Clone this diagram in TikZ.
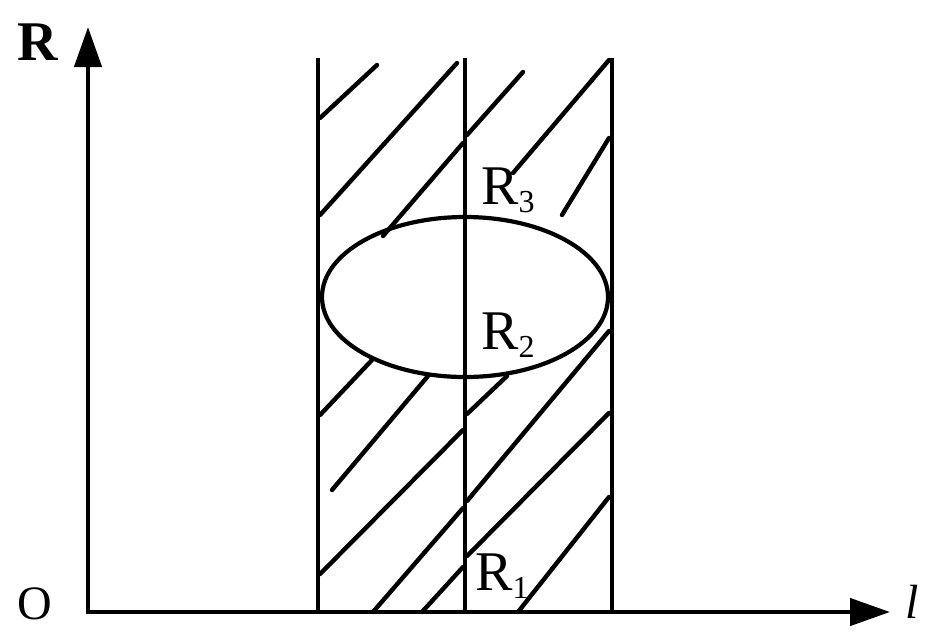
\documentclass[tikz,border=0pt]{standalone}
\usepackage{fontspec}
\setmainfont{Liberation Serif}
\usetikzlibrary{arrows.meta}
\newcommand{\sublbl}[2]{#1\raisebox{-8pt}{\fontsize{32}{32}\selectfont #2}}
\begin{document}
\begin{tikzpicture}[x=1pt,y=-1pt,
  axis/.style={line width=4.5pt,line join=miter,
    {Triangle[length=40pt,width=27pt]}-{Triangle[length=40pt,width=27pt]}},
  bound/.style={line width=4.2pt},
  hatch/.style={line width=4.4pt,line cap=round},
  lbl/.style={font=\fontsize{56}{56}\selectfont,inner sep=0pt}]
\useasboundingbox (0,0) rectangle (926,633);
% axes
\coordinate (O) at (88,612);
\coordinate (Rtop) at (88,27);
\coordinate (Lend) at (890,612);
\draw[axis] (Rtop) -- (O) -- (Lend);
\node[lbl,font=\fontsize{56}{56}\selectfont\bfseries] (labR) at (38,42) {R};
\node[lbl,font=\fontsize{48}{48}\selectfont] (labO) at (35,604) {O};
\node[lbl,font=\fontsize{48}{48}\selectfont\itshape] (labl) at (912,602) {l};
% vertical boundaries
\coordinate (v1t) at (318,58); \coordinate (v1b) at (318,612);
\coordinate (v2t) at (465,58); \coordinate (v2b) at (465,612);
\coordinate (v3t) at (612,58); \coordinate (v3b) at (612,612);
\draw[bound] (v1t) -- (v1b);
\draw[bound] (v2t) -- (v2b);
\draw[bound] (v3t) -- (v3b);
% ellipse
\draw[bound] (465,297) ellipse [x radius=143, y radius=80];
% hatching above the ellipse
\draw[hatch] (320,118) -- (377,65);
\draw[hatch] (320,215) -- (457,63);
\draw[hatch] (383,236) -- (463,143);
\draw[hatch] (467,135) -- (523,72);
\draw[hatch] (513,173) -- (609,60);
\draw[hatch] (562,215) -- (609,138);
% hatching below the ellipse, left half
\draw[hatch] (320,415) -- (372,360);
\draw[hatch] (332,490) -- (428,376);
\draw[hatch] (320,574) -- (463,430);
\draw[hatch] (373,612) -- (463,508);
\draw[hatch] (422,612) -- (463,567);
% hatching below the ellipse, right half
\draw[hatch] (467,414) -- (507,376);
\draw[hatch] (467,501) -- (609,331);
\draw[hatch] (467,556) -- (609,413);
\draw[hatch] (518,612) -- (609,497);
% labels
\node[lbl] (labR3) at (508,190) {\sublbl{R}{3}};
\node[lbl] (labR2) at (508,335) {\sublbl{R}{2}};
\node[lbl] (labR1) at (502,576) {\sublbl{R}{1}};
\end{tikzpicture}
\end{document}
